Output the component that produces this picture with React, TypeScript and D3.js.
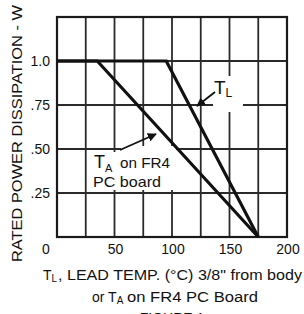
import * as d3 from 'd3';
import React from 'react';

// derating curves (temperature in °C, power in W)
const tlCurve = [
  { t: 0, p: 1.0 },
  { t: 95, p: 1.0 },
  { t: 175, p: 0 },
];
const taCurve = [
  { t: 0, p: 1.0 },
  { t: 35, p: 1.0 },
  { t: 175, p: 0 },
];
const xGrid = [0, 25, 50, 75, 100, 125, 150, 175, 200];
const yGrid = [0, 0.25, 0.5, 0.75, 1.0, 1.25];
const xTicks = [50, 100, 150, 200];
const yTicks = [
  { v: 1.0, label: '1.0' },
  { v: 0.75, label: '.75' },
  { v: 0.5, label: '.50' },
  { v: 0.25, label: '.25' },
];

const W = 304;
const H = 314;
const font = '"Liberation Sans", Arial, sans-serif';
const ink = '#111';

export default function App() {
  const margin = { top: 17, right: 17, bottom: 77, left: 57 };
  const x = d3.scaleLinear().domain([0, 200]).range([margin.left, W - margin.right]);
  const y = d3.scaleLinear().domain([0, 1.25]).range([H - margin.bottom, margin.top]);

  const line = d3
    .line<{ t: number; p: number }>()
    .x(d => x(d.t))
    .y(d => y(d.p));

  const x0 = x(0);
  const x1 = x(200);
  const y0 = y(0);
  const y1 = y(1.25);

  return (
    <svg
      width={W}
      height={H}
      style={{ position: 'absolute', left: 0, top: 0, background: '#fff' }}
      fontFamily={font}
    >
      <defs>
        <marker
          id="arrow"
          viewBox="0 0 10 10"
          refX="9"
          refY="5"
          markerWidth="9"
          markerHeight="9"
          markerUnits="userSpaceOnUse"
          orient="auto"
        >
          <path d="M0,0 L10,5 L0,10 z" fill={ink} />
        </marker>
      </defs>

      {/* grid */}
      {xGrid.map(v => (
        <line key={'gx' + v} x1={x(v)} x2={x(v)} y1={y0} y2={y1} stroke="#2a2a2a" strokeWidth={1.8} />
      ))}
      {yGrid.map(v => (
        <line key={'gy' + v} x1={x0} x2={x1} y1={y(v)} y2={y(v)} stroke="#2a2a2a" strokeWidth={1.8} />
      ))}
      <rect x={x0} y={y1} width={x1 - x0} height={y0 - y1} fill="none" stroke="#1a1a1a" strokeWidth={2.2} />

      {/* label backgrounds */}
      <rect x={213} y={76} width={30} height={36} fill="#fff" />
      <rect x={90} y={152} width={84} height={38} fill="#fff" />
      <rect x={121} y={146} width={55} height={7} fill="#fff" />

      {/* curves */}
      <path d={line(taCurve) ?? ''} fill="none" stroke={ink} strokeWidth={3.2} strokeLinejoin="miter" />
      <path d={line(tlCurve) ?? ''} fill="none" stroke={ink} strokeWidth={3.2} strokeLinejoin="miter" />

      {/* annotations */}
      <line x1={215} y1={92} x2={197} y2={106} stroke={ink} strokeWidth={1.8} markerEnd="url(#arrow)" />
      <text x={214} y={94} fontSize={19} fill={ink}>
        T<tspan fontSize={12} dy={3}>L</tspan>
      </text>
      <line x1={120} y1={150} x2={156} y2={134} stroke={ink} strokeWidth={1.8} markerEnd="url(#arrow)" />
      <text x={94} y={168} fontSize={18} fill={ink}>
        T<tspan fontSize={11} dy={4}>A</tspan>
      </text>
      <text x={120} y={168} fontSize={15} fill={ink} textLength={50} lengthAdjust="spacingAndGlyphs">
        on FR4
      </text>
      <text x={93} y={187} fontSize={15} fill={ink} textLength={68} lengthAdjust="spacingAndGlyphs">
        PC board
      </text>

      {/* y tick labels */}
      {yTicks.map(d => (
        <text
          key={'yt' + d.v}
          x={margin.left - 7}
          y={y(d.v) + 1}
          textAnchor="end"
          dominantBaseline="middle"
          fontSize={14}
          fill={ink}
        >
          {d.label}
        </text>
      ))}
      {/* x tick labels */}
      <text x={46} y={250} textAnchor="middle" dominantBaseline="middle" fontSize={14} fill={ink}>
        0
      </text>
      {xTicks.map(v => (
        <text
          key={'xt' + v}
          x={x(v) + 1}
          y={250}
          textAnchor="middle"
          dominantBaseline="middle"
          fontSize={14}
          fill={ink}
        >
          {v}
        </text>
      ))}

      {/* axis titles */}
      <text
        transform={`translate(22,${(5 + 262) / 2}) rotate(-90)`}
        textAnchor="middle"
        fontSize={14}
        fill={ink}
        textLength={257}
        lengthAdjust="spacingAndGlyphs"
      >
        RATED POWER DISSIPATION - W
      </text>
      <text x={43} y={280} fontSize={14} fill={ink}>
        T<tspan fontSize={10} dy={2}>L</tspan>
      </text>
      <text x={58} y={280} fontSize={14} fill={ink} textLength={244} lengthAdjust="spacingAndGlyphs">
        , LEAD TEMP. (°C) 3/8" from body
      </text>
      <text x={92} y={302} fontSize={14} fill={ink}>
        or T<tspan fontSize={10} dy={2}>A</tspan>
      </text>
      <text x={127} y={302} fontSize={14} fill={ink} textLength={131} lengthAdjust="spacingAndGlyphs">
        on FR4 PC Board
      </text>
      <text x={172} y={323} textAnchor="middle" fontSize={14} fill={ink}>
        FIGURE 1
      </text>
    </svg>
  );
}
